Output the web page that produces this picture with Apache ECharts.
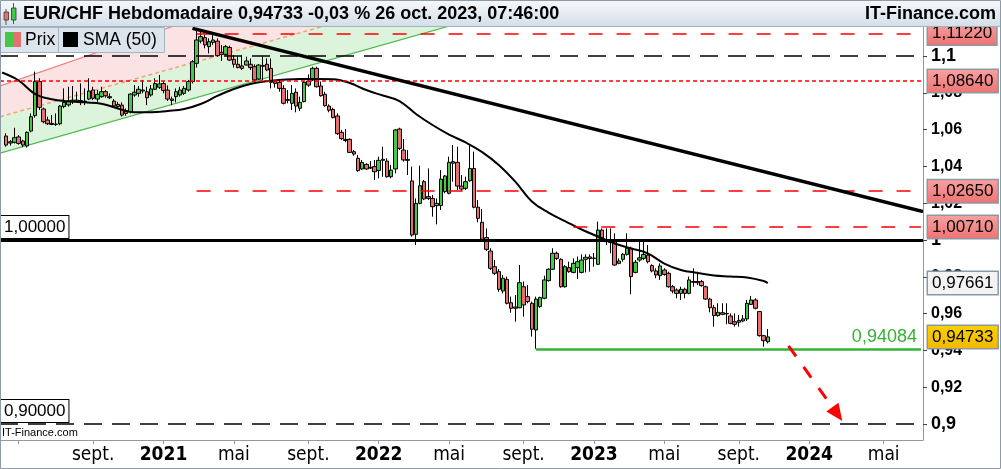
<!DOCTYPE html>
<html><head><meta charset="utf-8">
<script src="https://cdn.jsdelivr.net/npm/echarts@6/dist/echarts.min.js"></script>
<style>html,body{margin:0;padding:0;background:#fff}#c{width:1001px;height:469px}</style>
</head><body><div id="c"></div>
<script>
// ---------- DATA ----------
const firstWeek = [2020, 3, 6]; // Monday 6 April 2020 (UTC y, m0, d)
const weekCount = 223;
// weekly candles [open, close, low, high], index = week number from firstWeek
const ohlc = [
null,
[1.0565,1.0516,1.0507,1.0580],[1.0527,1.0534,1.0513,1.0543],[1.0531,1.0556,1.0524,1.0610],[1.0560,1.0525,1.0518,1.0570],
[1.0538,1.0516,1.0505,1.0545],[1.0511,1.0585,1.0502,1.0590],[1.0592,1.0670,1.0585,1.0688],[1.0676,1.0861,1.0665,1.0915],
[1.0861,1.0721,1.0707,1.0879],[1.0712,1.0643,1.0634,1.0720],[1.0652,1.0632,1.0625,1.0670],[1.0634,1.0628,1.0624,1.0679],
[1.0630,1.0628,1.0620,1.0688],[1.0632,1.0728,1.0624,1.0733],[1.0725,1.0748,1.0716,1.0824],[1.0734,1.0755,1.0725,1.0833],
[1.0751,1.0760,1.0739,1.0837],[1.0755,1.0760,1.0748,1.0806],[1.0758,1.0751,1.0733,1.0851],[1.0755,1.0748,1.0733,1.0824],
[1.0766,1.0810,1.0760,1.0879],[1.0815,1.0770,1.0760,1.0833],[1.0766,1.0792,1.0751,1.0815],[1.0779,1.0806,1.0773,1.0833],
[1.0806,1.0784,1.0773,1.0815],[1.0779,1.0773,1.0766,1.0797],[1.0755,1.0728,1.0719,1.0766],[1.0737,1.0726,1.0715,1.0751],
[1.0733,1.0679,1.0670,1.0748],[1.0701,1.0688,1.0675,1.0715],[1.0697,1.0793,1.0688,1.0797],[1.0788,1.0803,1.0779,1.0842],
[1.0797,1.0819,1.0779,1.0837],[1.0810,1.0815,1.0797,1.0870],[1.0806,1.0773,1.0733,1.0833],[1.0788,1.0821,1.0779,1.0842],
[1.0819,1.0850,1.0815,1.0879],[1.0830,1.0848,1.0821,1.0897],[1.0850,1.0813,1.0797,1.0864],[1.0815,1.0766,1.0755,1.0840],
[1.0766,1.0758,1.0733,1.0779],[1.0779,1.0806,1.0748,1.0824],[1.0788,1.0815,1.0779,1.0833],[1.0797,1.0824,1.0788,1.0837],
[1.0815,1.0861,1.0806,1.0870],[1.0861,1.0969,1.0851,1.0978],
[1.0960,1.1087,1.0937,1.1150],[1.1081,1.1105,1.1069,1.1132],[1.1100,1.1060,1.1042,1.1118],[1.1051,1.1078,1.1014,1.1096],
[1.1074,1.1087,1.1060,1.1114],[1.1081,1.1002,1.0996,1.1096],[1.1020,1.1009,1.0973,1.1060],[1.1009,1.1051,1.1002,1.1060],
[1.1046,1.0978,1.0973,1.1056],[1.0982,1.0955,1.0937,1.1005],[1.0955,1.0937,1.0933,1.0996],[1.0946,1.0933,1.0924,1.1002],
[1.0951,1.0973,1.0948,1.0996],[1.0955,1.0937,1.0924,1.0987],[1.0942,1.0870,1.0864,1.0955],[1.0875,1.0951,1.0870,1.0955],
[1.0949,1.0944,1.0870,1.0996],[1.0955,1.0924,1.0918,1.0987],[1.0933,1.0857,1.0824,1.0987],[1.0861,1.0851,1.0828,1.0870],
[1.0857,1.0824,1.0806,1.0864],[1.0824,1.0743,1.0737,1.0842],[1.0764,1.0759,1.0743,1.0815],[1.0743,1.0797,1.0707,1.0842],
[1.0803,1.0728,1.0694,1.0824],[1.0716,1.0748,1.0701,1.0779],[1.0752,1.0857,1.0748,1.0864],[1.0864,1.0842,1.0833,1.0900],
[1.0870,1.0933,1.0864,1.0942],[1.0933,1.0833,1.0828,1.0942],[1.0837,1.0784,1.0779,1.0861],[1.0792,1.0730,1.0725,1.0806],
[1.0728,1.0705,1.0694,1.0737],[1.0710,1.0665,1.0661,1.0719],[1.0674,1.0578,1.0571,1.0688],[1.0585,1.0551,1.0543,1.0598],
[1.0547,1.0541,1.0531,1.0603],[1.0547,1.0476,1.0473,1.0552],[1.0480,1.0467,1.0458,1.0489],[1.0444,1.0377,1.0371,1.0462],
[1.0386,1.0422,1.0380,1.0435],[1.0411,1.0386,1.0380,1.0417],[1.0395,1.0391,1.0386,1.0429],[1.0399,1.0371,1.0326,1.0435],
[1.0378,1.0433,1.0335,1.0453],[1.0439,1.0433,1.0344,1.0507],[1.0429,1.0344,1.0339,1.0444],
[1.0344,1.0380,1.0335,1.0408],[1.0386,1.0598,1.0362,1.0603],[1.0603,1.0498,1.0489,1.0610],[1.0489,1.0435,1.0426,1.0549],
[1.0437,1.0433,1.0353,1.0489],[1.0321,1.0027,1.0018,1.0399],[1.0031,1.0199,0.9973,1.0226],[1.0199,1.0295,1.0194,1.0404],
[1.0317,1.0223,1.0217,1.0326],[1.0236,1.0226,1.0217,1.0389],[1.0226,1.0181,1.0127,1.0245],[1.0187,1.0199,1.0085,1.0226],
[1.0187,1.0331,1.0163,1.0380],[1.0263,1.0348,1.0254,1.0353],[1.0254,1.0422,1.0248,1.0453],[1.0426,1.0417,1.0317,1.0516],
[1.0422,1.0293,1.0272,1.0507],[1.0293,1.0277,1.0266,1.0353],[1.0281,1.0317,1.0272,1.0344],[1.0322,1.0389,1.0317,1.0513],
[1.0389,1.0178,1.0172,1.0480],[1.0178,1.0118,1.0096,1.0217],[1.0096,1.0004,1.0000,1.0168],[1.0013,0.9949,0.9940,1.0063],
[0.9940,0.9846,0.9837,0.9955],[0.9855,0.9819,0.9810,0.9891],[0.9828,0.9732,0.9719,0.9842],[0.9723,0.9792,0.9710,0.9810],
[0.9786,0.9656,0.9650,0.9801],[0.9659,0.9629,0.9605,0.9692],[0.9636,0.9629,0.9556,0.9701],[0.9632,0.9768,0.9629,0.9864],
[0.9746,0.9647,0.9583,0.9774],[0.9692,0.9665,0.9656,0.9755],[0.9656,0.9515,0.9475,0.9665],[0.9511,0.9679,0.94084,0.9692],
[0.9638,0.9687,0.9632,0.9692],[0.9683,0.9783,0.9678,0.9806],[0.9779,0.9841,0.9774,0.9846],[0.9841,0.9928,0.9837,0.9955],
[0.9928,0.9900,0.9891,0.9937],[0.9895,0.9746,0.9741,0.9900],[0.9746,0.9855,0.9741,0.9864],[0.9850,0.9828,0.9822,0.9882],
[0.9824,0.9873,0.9819,0.9900],[0.9850,0.9882,0.9788,0.9910],
[0.9824,0.9891,0.9819,0.9922],[0.9895,0.9906,0.9824,0.9922],[0.9908,0.9899,0.9828,0.9922],[0.9900,0.9902,0.9855,0.9929],
[0.9868,1.0054,0.9864,1.0100],[1.0054,0.9995,0.9991,1.0063],[1.0000,0.9991,0.9973,1.0063],[0.9995,0.9987,0.9928,1.0063],
[0.9991,0.9864,0.9861,1.0036],[0.9873,0.9886,0.9868,0.9900],[0.9895,0.9922,0.9882,0.9930],[0.9922,0.9955,0.9915,1.0036],
[0.9955,0.9801,0.9705,0.9964],[0.9824,0.9879,0.9819,0.9891],[0.9891,0.9903,0.9882,0.9991],[0.9900,0.9922,0.9891,0.9991],
[0.9918,0.9882,0.9873,0.9973],[0.9861,0.9832,0.9824,0.9868],[0.9832,0.9810,0.9792,0.9846],[0.9806,0.9859,0.9783,0.9873],
[0.9837,0.9813,0.9806,0.9846],[0.9819,0.9746,0.9741,0.9828],[0.9746,0.9723,0.9710,0.9755],[0.9728,0.9710,0.9683,0.9737],
[0.9710,0.9732,0.9674,0.9746],[0.9732,0.9710,0.9683,0.9741],[0.9710,0.9783,0.9705,0.9801],[0.9774,0.9770,0.9746,0.9846],
[0.9774,0.9768,0.9755,0.9828],[0.9774,0.9752,0.9746,0.9783],[0.9746,0.9679,0.9674,0.9752],[0.9679,0.9632,0.9607,0.9686],
[0.9632,0.9589,0.9529,0.9647],[0.9589,0.9607,0.9583,0.9656],[0.9605,0.9596,0.9592,0.9656],[0.9601,0.9599,0.9542,0.9656],
[0.9587,0.9547,0.9542,0.9601],[0.9556,0.9542,0.9529,0.9601],[0.9553,0.9563,0.9529,0.9592],[0.9560,0.9571,0.9553,0.9592],
[0.9571,0.9656,0.9560,0.9674],[0.9650,0.9674,0.9647,0.9696],[0.9674,0.9629,0.9623,0.9683],[0.9611,0.9480,0.9475,0.9614],
[0.9480,0.9453,0.9420,0.9484],[0.9447,0.94733,0.9438,0.9516]
];
// SMA(50) at these week indexes
const smaIdx = [0,4,8,12,16,20,24,28,32,36,40,44,48,52,56,60,64,68,72,76,80,84,88,92,96,100,104,108,112,116,120,124,128,132,136,140,144,148,152,156,160,164,168,172,176,180,184,185];
const smaVal = [1.0910,1.0867,1.0793,1.0765,1.0754,1.0748,1.0741,1.0715,1.0694,1.0694,1.0701,1.0712,1.0739,1.0783,1.0821,1.0848,1.0863,1.0871,1.0875,1.0875,1.0874,1.0853,1.0815,1.0785,1.0755,1.0685,1.0625,1.0573,1.0530,1.0478,1.0408,1.0317,1.0209,1.0149,1.0103,1.0057,1.0019,0.9981,0.9954,0.9927,0.9872,0.9837,0.9821,0.9807,0.9802,0.9796,0.9777,0.97661];
// horizontal levels
const levelValues = [1.1122, 1.1, 1.0864, 1.0265, 1.0071, 1.0, 0.94084, 0.9];
const levelFrom   = [47, 0, 0, 47, 138, 0, 129, 0];
const levelTexts  = ['1,11220', '', '1,08640', '1,02650', '1,00710', '1,00000', '0,94084', '0,90000'];
const lastClose = 0.94733, lastCloseText = '0,94733';
const lastSma = 0.97661, lastSmaText = '0,97661';
// drawn lines: [weekIndex, price]
const channelLower  = [[0, 1.0475], [115, 1.1207]];
const channelMiddle = [[0, 1.0673], [115, 1.1397]];
const channelUpper  = [[0, 1.0841], [115, 1.1734]];
const trendLine = [[46, 1.1150], [222, 1.0158]];
const arrowPath = [[190, 0.9425], [203, 0.9016]];
const yTickValues = [0.9, 0.92, 0.94, 0.96, 0.98, 1, 1.02, 1.04, 1.06, 1.08, 1.1];
const yMin = 0.891304, yMax = 1.115761;
const titleText = 'EUR/CHF Hebdomadaire 0,94733 -0,03 % 26 oct. 2023, 07:46:00';
const siteText = 'IT-Finance.com';
const monthLabels = {0: null, 4: 'mai', 8: 'sept.'};

// ---------- BUILD ----------
const weeks = [];
const t0 = Date.UTC(firstWeek[0], firstWeek[1], firstWeek[2]);
for (let k = 0; k < weekCount; k++) weeks.push(new Date(t0 + k * 7 * 864e5).toISOString().slice(0, 10));
function isLabelWeek(v) {
  const m = +v.slice(5, 7) - 1, d = +v.slice(8, 10);
  return d <= 7 && (m === 0 || m === 4 || m === 8);
}
function xLabel(v) {
  const m = +v.slice(5, 7) - 1;
  if (m === 0) return '{y|' + v.slice(0, 4) + '}';
  return '{m|' + monthLabels[m] + '}';
}
const FONT = "'Liberation Sans', Arial, sans-serif";
const NARROW = "'Liberation Sans Narrow', 'Arial Narrow', 'DejaVu Sans Condensed', sans-serif";
const CLEAR = 'rgba(0,0,0,0)';

const lineStyles = [
  {color: '#ff0000', type: [14, 14], width: 1.5},
  {color: '#000000', type: [18, 10], width: 1.5},
  {color: '#ff0000', type: [4, 3], width: 1.5},
  {color: '#ff0000', type: [14, 14], width: 1.5},
  {color: '#ff0000', type: [14, 14], width: 1.5},
  {color: '#000000', type: 'solid', width: 3},
  {color: '#33b233', type: 'solid', width: 2.5},
  {color: '#000000', type: [18, 10], width: 1.5}
];
const rightBox = (txt, bg) => ({show: true, position: 'end', distance: 5, formatter: txt, color: '#000',
  fontFamily: FONT, fontSize: 17, backgroundColor: bg, borderColor: '#8c99a5', borderWidth: 1.5, padding: [2, 4, 1, 4], lineHeight: 19});
const leftBox = (txt) => ({show: true, position: 'insideStartTop', distance: [1, 2], formatter: txt, color: '#000',
  fontFamily: FONT, fontSize: 17, backgroundColor: '#fff', borderColor: '#000', borderWidth: 1, padding: [2, 3, 1, 3], lineHeight: 19});
const redBg = {type: 'linear', x: 0, y: 0, x2: 0, y2: 1, colorStops: [{offset: 0, color: '#f7a3a3'}, {offset: 1, color: '#ef7171'}]};
const yellowBg = {type: 'linear', x: 0, y: 0, x2: 0, y2: 1, colorStops: [{offset: 0, color: '#fbd200'}, {offset: 1, color: '#f2b800'}]};

const markData = [];
levelValues.forEach((v, k) => {
  const ls = lineStyles[k];
  let label = {show: false};
  if (k === 5 || k === 7) label = leftBox(levelTexts[k]);
  if (k === 6) label = {show: true, position: 'insideEndTop', distance: [4, 3], formatter: levelTexts[k],
    color: '#33b233', fontFamily: FONT, fontSize: 18};
  if (levelFrom[k] === 0) markData.push({yAxis: v, lineStyle: ls, label});
  else markData.push([{coord: [weeks[levelFrom[k]], v], lineStyle: ls, label}, {coord: [weeks[weekCount - 1], v]}]);
});
const boxData = [];
[0, 2, 3, 4].forEach(k => boxData.push({yAxis: levelValues[k], label: rightBox(levelTexts[k], redBg)}));
boxData.push({yAxis: lastSma, label: rightBox(lastSmaText, '#f3f3f3')});
boxData.push({yAxis: lastClose, label: rightBox(lastCloseText, yellowBg)});

function extend(p0, p1, xl, xr) {
  const k = (p1[1] - p0[1]) / (p1[0] - p0[0]);
  return [[xl, p0[1] + k * (xl - p0[0])], [xr, p0[1] + k * (xr - p0[0])]];
}
function renderChannel(params, api) {
  const cs = params.coordSys;
  const L = extend(api.coord(channelLower[0]), api.coord(channelLower[1]), cs.x, cs.x + cs.width);
  const M = extend(api.coord(channelMiddle[0]), api.coord(channelMiddle[1]), cs.x, cs.x + cs.width);
  const U = extend(api.coord(channelUpper[0]), api.coord(channelUpper[1]), cs.x, cs.x + cs.width);
  const seg = (P, style) => ({type: 'line', shape: {x1: P[0][0], y1: P[0][1], x2: P[1][0], y2: P[1][1]}, style});
  return {type: 'group', children: [
    {type: 'polygon', shape: {points: [L[0], L[1], M[1], M[0]]}, style: {fill: '#dcf3dc'}},
    {type: 'polygon', shape: {points: [M[0], M[1], U[1], U[0]]}, style: {fill: '#fbe3e3'}},
    seg(L, {stroke: '#4cbb4c', lineWidth: 1.2}),
    seg(M, {stroke: '#f4a274', lineWidth: 1.5, lineDash: [4, 3]}),
    seg(U, {stroke: '#ee8080', lineWidth: 1.2})
  ]};
}
function renderTrend(params, api) {
  const cs = params.coordSys;
  const a = api.coord(trendLine[0]), b = api.coord(trendLine[1]);
  const E = extend(a, b, a[0], cs.x + cs.width);
  return {type: 'line', shape: {x1: E[0][0], y1: E[0][1], x2: E[1][0], y2: E[1][1]},
    style: {stroke: '#000', lineWidth: 3.5, lineCap: 'butt'}};
}
function renderArrow(params, api) {
  const a = api.coord(arrowPath[0]), b = api.coord(arrowPath[1]);
  const dx = b[0] - a[0], dy = b[1] - a[1], len = Math.hypot(dx, dy);
  const ux = dx / len, uy = dy / len, hl = 17, hw = 7.5;
  const base = [b[0] - ux * hl, b[1] - uy * hl];
  return {type: 'group', children: [
    {type: 'line', shape: {x1: a[0], y1: a[1], x2: base[0], y2: base[1]},
      style: {stroke: '#ff0000', lineWidth: 3, lineDash: [13, 13]}},
    {type: 'polygon', shape: {points: [b, [base[0] - uy * hw, base[1] + ux * hw], [base[0] + uy * hw, base[1] - ux * hw]]},
      style: {fill: '#ff0000'}}
  ]};
}

const chart = echarts.init(document.getElementById('c'), null, {renderer: 'canvas'});
chart.setOption({
  animation: false,
  backgroundColor: '#ffffff',
  grid: {left: 0, right: 78, top: 27, bottom: 29, containLabel: false},
  xAxis: {
    type: 'category', data: weeks, boundaryGap: true,
    axisLine: {show: true, lineStyle: {color: '#8e9ba7', width: 1}},
    axisTick: {show: true, alignWithLabel: true, interval: (i, v) => isLabelWeek(v), length: 4, lineStyle: {color: '#8e9ba7'}},
    axisLabel: {interval: (i, v) => isLabelWeek(v) && i > 10, formatter: xLabel, margin: 6,
      rich: {y: {fontFamily: NARROW, fontSize: 19, fontWeight: 'bold', color: '#000'},
             m: {fontFamily: NARROW, fontSize: 19, color: '#000'}}},
    splitLine: {show: false}
  },
  yAxis: {
    type: 'value', position: 'right', min: yMin, max: yMax, scale: true,
    axisLine: {show: true, lineStyle: {color: '#8e9ba7', width: 1}},
    axisTick: {show: true, length: 4, lineStyle: {color: '#444'}, customValues: yTickValues},
    axisLabel: {margin: 8, customValues: yTickValues,
      formatter: v => {
        const s = String(+v.toFixed(2)).replace('.', ',');
        const major = Math.abs(v * 10 - Math.round(v * 10)) < 1e-6;
        return major ? '{b|' + s + '}' : '{n|' + s + '}';
      },
      rich: {b: {fontFamily: FONT, fontSize: 18, fontWeight: 'bold', color: '#000'},
             n: {fontFamily: FONT, fontSize: 16, fontWeight: 'bold', color: '#000'}}},
    splitLine: {show: false}
  },
  series: [
    {type: 'custom', name: 'channel', renderItem: renderChannel, data: [[0, 1]], clip: true, z: 1, silent: true},
    {type: 'candlestick', name: 'Prix', z: 3, barWidth: 4,
      data: ohlc.map(r => r ? r : '-'),
      itemStyle: {color: '#45c845', color0: '#e86f6f', borderColor: '#000', borderColor0: '#000', borderWidth: 1},
      markLine: {symbol: ['none', 'none'], silent: true, animation: false, precision: 5, data: markData, z: 5}},
    {type: 'line', name: 'SMA (50)', z: 4, smooth: 0.4, showSymbol: false, connectNulls: true,
      data: smaIdx.map((i, k) => [i, smaVal[k]]), lineStyle: {color: '#000', width: 2}},
    {type: 'custom', name: 'trend', renderItem: renderTrend, data: [[0, 1]], clip: true, z: 5, silent: true},
    {type: 'custom', name: 'arrow', renderItem: renderArrow, data: [[0, 1]], clip: true, z: 5, silent: true},
    {type: 'line', name: 'boxes', z: 10, data: [], silent: true,
      markLine: {symbol: ['none', 'none'], silent: true, animation: false, precision: 5,
        lineStyle: {color: CLEAR, width: 1, type: 'solid'}, data: boxData, z: 10}}
  ],
  graphic: [
    {type: 'rect', z: 100, shape: {x: 0, y: 0, width: 1001, height: 27},
      style: {fill: {type: 'linear', x: 0, y: 0, x2: 0, y2: 1, colorStops: [{offset: 0, color: '#f6f9fb'}, {offset: 1, color: '#d3dee7'}]}}},
    {type: 'line', z: 101, shape: {x1: 0, y1: 26.5, x2: 1001, y2: 26.5}, style: {stroke: '#9fb2c4', lineWidth: 1}},
    {type: 'line', z: 101, shape: {x1: 6, y1: 9, x2: 6, y2: 25}, style: {stroke: '#555', lineWidth: 1}},
    {type: 'rect', z: 102, shape: {x: 4, y: 12, width: 4.5, height: 8}, style: {fill: '#e86f6f', stroke: '#333', lineWidth: 0.8}},
    {type: 'line', z: 101, shape: {x1: 13.5, y1: 3, x2: 13.5, y2: 24}, style: {stroke: '#555', lineWidth: 1}},
    {type: 'rect', z: 102, shape: {x: 11.5, y: 8, width: 4.5, height: 12}, style: {fill: '#45c845', stroke: '#333', lineWidth: 0.8}},
    {type: 'text', z: 102, x: 23, y: 14, style: {text: titleText, font: "bold 18px 'Liberation Sans', Arial, sans-serif", fill: '#000', verticalAlign: 'middle'}},
    {type: 'text', z: 102, x: 996, y: 14, style: {text: siteText, font: "bold 18px 'Liberation Sans', Arial, sans-serif", fill: '#000', align: 'right', verticalAlign: 'middle'}},
    {type: 'rect', z: 100, shape: {x: 0.5, y: 27.5, width: 164, height: 25}, style: {fill: '#dde5ec', stroke: '#a7b3bf', lineWidth: 1}},
    {type: 'line', z: 101, shape: {x1: 58.5, y1: 27.5, x2: 58.5, y2: 52.5}, style: {stroke: '#a7b3bf', lineWidth: 1}},
    {type: 'rect', z: 101, shape: {x: 5, y: 32, width: 8, height: 15}, style: {fill: '#45c845'}},
    {type: 'rect', z: 101, shape: {x: 13, y: 32, width: 8, height: 15}, style: {fill: '#e86f6f'}},
    {type: 'text', z: 101, x: 25, y: 40, style: {text: 'Prix', font: "17.5px 'Liberation Sans', Arial, sans-serif", fill: '#000', verticalAlign: 'middle'}},
    {type: 'rect', z: 101, shape: {x: 63, y: 32, width: 15, height: 15}, style: {fill: '#000'}},
    {type: 'text', z: 101, x: 83, y: 40, style: {text: 'SMA (50)', font: "17.5px 'Liberation Sans', Arial, sans-serif", fill: '#000', verticalAlign: 'middle'}},
    {type: 'text', z: 101, x: 2, y: 433, style: {text: siteText, font: "11px 'Liberation Sans Narrow', 'Liberation Sans', sans-serif", fill: '#000', verticalAlign: 'middle'}},
    {type: 'rect', z: 103, shape: {x: 0.5, y: 0.5, width: 1000, height: 468}, style: {fill: 'none', stroke: '#8e9ba7', lineWidth: 1}}
  ]
});
</script>
</body></html>
